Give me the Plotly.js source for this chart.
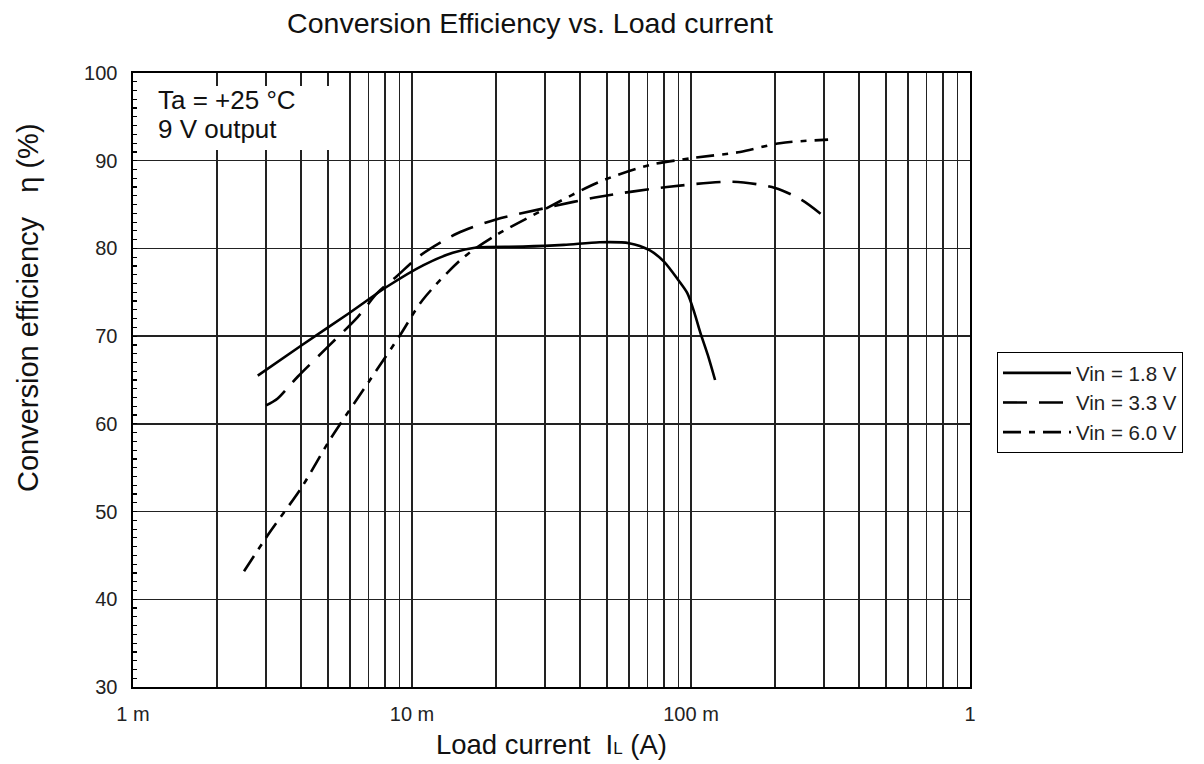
<!DOCTYPE html>
<html>
<head>
<meta charset="utf-8">
<script src="https://cdn.plot.ly/plotly-3.0.1.min.js"></script>
<style>
html,body{margin:0;padding:0;background:#fff;}
#chart{width:1204px;height:764px;}
</style>
</head>
<body>
<div id="chart"></div>
<script>
// ---- data ----
var seriesNames = ['Vin = 1.8 V', 'Vin = 3.3 V', 'Vin = 6.0 V'];

var x18 = [0.0028, 0.004, 0.006, 0.0081, 0.011, 0.014, 0.017, 0.025, 0.035, 0.047, 0.06, 0.071, 0.08, 0.09, 0.097, 0.103, 0.108, 0.115, 0.122];
var y18 = [65.5, 68.9, 72.7, 75.6, 78.1, 79.5, 80.1, 80.2, 80.4, 80.7, 80.6, 79.8, 78.5, 76.4, 74.9, 72.6, 70.4, 67.8, 65.0];

var x33 = [0.003, 0.0033, 0.00365, 0.0039, 0.005, 0.0064, 0.0075, 0.0088, 0.0107, 0.0145, 0.02, 0.03, 0.047, 0.082, 0.141, 0.2, 0.25, 0.306];
var y33 = [62.1, 62.9, 64.4, 65.4, 68.8, 72.2, 74.9, 76.8, 79.2, 81.7, 83.3, 84.6, 85.9, 87.0, 87.6, 86.9, 85.5, 83.4];

var x60 = [0.0025, 0.0031, 0.00403, 0.00508, 0.00707, 0.00906, 0.0109, 0.0152, 0.02, 0.03, 0.047, 0.071, 0.101, 0.15, 0.208, 0.31];
var y60 = [43.2, 47.7, 52.8, 58.2, 65.0, 70.1, 74.1, 78.9, 81.5, 84.5, 87.6, 89.5, 90.3, 91.0, 92.0, 92.4];

var xTickVals = [0.001, 0.01, 0.1, 1];
var xTickText = ['1 m', '10 m', '100 m', '1'];
var xMinorVals = [0.002,0.003,0.004,0.005,0.006,0.007,0.008,0.009,
                  0.02,0.03,0.04,0.05,0.06,0.07,0.08,0.09,
                  0.2,0.3,0.4,0.5,0.6,0.7,0.8,0.9];

var titleText = 'Conversion Efficiency vs. Load current';
var xTitleText = 'Load current\u00a0\u00a0I<span style="font-size:17px">L</span> (A)';
var yTitleText = 'Conversion efficiency\u00a0\u00a0\u00a0η (%)';
var noteLines = ['Ta = +25 °C', '9 V output'];

// ---- styling ----
var FONT = 'Liberation Sans, Arial, sans-serif';
var dashes = ['solid', '24px,12px', '18px,8px,6px,8px'];

function mk(x, y, name, dash) {
  return {
    x: x, y: y, name: name, type: 'scatter', mode: 'lines',
    line: {color: '#000', width: 2.6, dash: dash, shape: 'spline', smoothing: 0.8}
  };
}

var data = [
  mk(x18, y18, seriesNames[0], dashes[0]),
  mk(x33, y33, seriesNames[1], dashes[1]),
  mk(x60, y60, seriesNames[2], dashes[2])
];

var layout = {
  width: 1204, height: 764,
  margin: {l: 133, r: 234, t: 73, b: 77},
  paper_bgcolor: '#fff', plot_bgcolor: '#fff',
  font: {family: FONT, color: '#111', size: 20},
  title: {
    text: titleText, x: 530/1204, xref: 'container', xanchor: 'center',
    y: 1 - 23/764, yref: 'container', yanchor: 'middle',
    font: {family: FONT, size: 28.5, color: '#111'}
  },
  xaxis: {
    type: 'log', range: [-3, 0],
    tickmode: 'array', tickvals: xTickVals, ticktext: xTickText,
    ticks: '', ticklabelstandoff: 8,
    showgrid: true, gridcolor: '#222', gridwidth: 1.3,
    showline: true, linecolor: '#000', linewidth: 1.6, mirror: true,
    zeroline: false,
    tickfont: {family: FONT, size: 20, color: '#222'},
    minor: {tickmode: 'array', tickvals: xMinorVals, showgrid: true, gridcolor: '#222', gridwidth: 1.3, ticks: ''},
    title: {text: xTitleText, font: {family: FONT, size: 27.5, color: '#111'}, standoff: 11}
  },
  yaxis: {
    range: [30, 100], dtick: 10, tick0: 30,
    ticks: 'inside', ticklen: 4, tickcolor: '#000', tickwidth: 1.2,
    ticklabelstandoff: 10,
    showgrid: true, gridcolor: '#222', gridwidth: 1.3,
    showline: true, linecolor: '#000', linewidth: 1.6, mirror: true,
    zeroline: false,
    tickfont: {family: FONT, size: 20, color: '#222'},
    minor: {dtick: 1, ticks: 'inside', ticklen: 4, tickcolor: '#000', tickwidth: 1.2, showgrid: false}
  },
  legend: {
    x: (997 - 133) / 837, xanchor: 'left',
    y: (687 - 352) / 614, yanchor: 'top',
    bgcolor: '#fff', bordercolor: '#000', borderwidth: 1,
    font: {family: FONT, size: 20.5, color: '#222'},
    itemwidth: 68, tracegroupgap: 0
  },
  shapes: [{
    type: 'rect', xref: 'paper', yref: 'paper', layer: 'above',
    x0: 5 / 837, x1: (336 - 133) / 837, y0: (687 - 150) / 614, y1: (687 - 86) / 614,
    fillcolor: '#fff', line: {width: 0}
  }],
  annotations: [
    {text: yTitleText, xref: 'paper', yref: 'paper', x: (28 - 133) / 837, y: (687 - 308) / 614,
     xanchor: 'center', yanchor: 'middle', textangle: -90, showarrow: false,
     font: {family: FONT, size: 29, color: '#111'}},
    {text: noteLines[0], xref: 'paper', yref: 'paper', x: (156 - 133) / 837, y: (687 - 100) / 614,
     xanchor: 'left', yanchor: 'middle', showarrow: false, font: {family: FONT, size: 26, color: '#111'}},
    {text: noteLines[1], xref: 'paper', yref: 'paper', x: (156 - 133) / 837, y: (687 - 129) / 614,
     xanchor: 'left', yanchor: 'middle', showarrow: false, font: {family: FONT, size: 26, color: '#111'}}
  ],
  showlegend: true
};

Plotly.newPlot('chart', data, layout, {displayModeBar: false, staticPlot: true});
</script>
</body>
</html>
